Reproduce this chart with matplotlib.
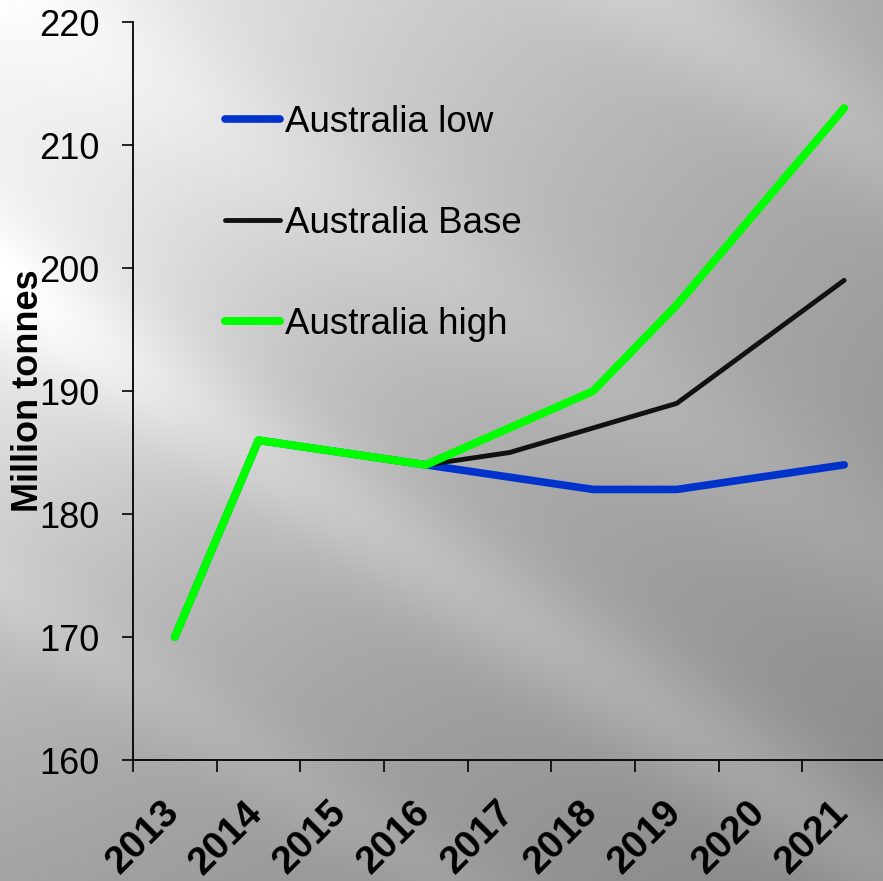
import matplotlib.pyplot as plt
import matplotlib.transforms as mtransforms
import numpy as np

plt.rcParams['font.family'] = ['Liberation Sans', 'DejaVu Sans']

years = ['2013', '2014', '2015', '2016', '2017', '2018', '2019', '2020', '2021']
aus_low = [170, 186, 185, 184, 183, 182, 182, 183, 184]
aus_base = [170, 186, 185, 184, 185, 187, 189, 194, 199]
aus_high = [170, 186, 185, 184, 187, 190, 197, 205, 213]

fig = plt.figure(figsize=(8.83, 8.81), dpi=100)

# brushed-metal style backdrop: grey gradient with soft diagonal light streaks
H, W = 881, 883
yy, xx = np.mgrid[0:H, 0:W] / 883.0
theta = np.deg2rad(33)
p = -xx * np.sin(theta) + yy * np.cos(theta)
shade = 0.92 - 0.25 * xx - 0.28 * yy + 0.14 * xx * yy
shade += 0.10 * np.exp(-(xx ** 2 + (yy - 0.35) ** 2) / (2 * 0.22 ** 2))
for centre, width, amp in [(0.27, 0.045, 0.08), (-0.41, 0.05, 0.07),
                           (0.56, 0.035, 0.04), (-0.02, 0.06, 0.05)]:
    shade += amp * np.exp(-(p - centre) ** 2 / (2 * width ** 2))
shade = np.clip(shade, 0, 1)
bg = fig.add_axes([0, 0, 1, 1], zorder=0)
bg.imshow(np.dstack([shade] * 3), aspect='auto', extent=[0, 1, 0, 1])
bg.axis('off')

ax = fig.add_axes([0.1506, 0.1373, 0.8528, 0.8377], zorder=1)
ax.set_facecolor('none')

x = np.arange(len(years))
ax.plot(x, aus_low, color='#0033CC', lw=5.5, solid_capstyle='round',
        solid_joinstyle='round', label='Australia low')
ax.plot(x, aus_base, color='#111111', lw=3.5, solid_capstyle='round',
        solid_joinstyle='round', label='Australia Base')
ax.plot(x, aus_high, color='#00FF00', lw=5.8, solid_capstyle='round',
        solid_joinstyle='round', label='Australia high')

ax.set_xlim(-0.5, len(years) - 0.5)
ax.set_ylim(160, 220)
ax.set_yticks(np.arange(160, 221, 10))
ax.set_xticks(np.arange(-0.5, len(years), 1.0))
ax.set_xticklabels([])

for side in ['top', 'right']:
    ax.spines[side].set_visible(False)
for side in ['left', 'bottom']:
    ax.spines[side].set_linewidth(1.3)

ax.tick_params(axis='y', direction='out', length=8, width=1.2, pad=16,
               labelsize=26)
ax.tick_params(axis='x', direction='out', length=8.5, width=1.2)

# rotated year labels, baseline end anchored just right of each category
trans = mtransforms.blended_transform_factory(ax.transData, ax.transAxes)
trans = mtransforms.offset_copy(trans, fig=fig, x=4.3, y=-39.0, units='points')
for i, yr in enumerate(years):
    ax.text(i, 0, yr, transform=trans, rotation=45, rotation_mode='anchor',
            ha='right', va='baseline', fontsize=28, fontweight='bold',
            clip_on=False)

ax.set_ylabel('Million tonnes', fontsize=26, fontweight='bold')
ax.yaxis.set_label_coords(-0.115, 0.5)

ax.legend(loc='upper left', bbox_to_anchor=(0.2548, 0.881),
          bbox_transform=fig.transFigure, frameon=False, fontsize=26.5,
          handlelength=1.5, handletextpad=0.12, labelspacing=1.8,
          borderpad=0, borderaxespad=0)

fig.savefig('out.png', dpi=100)
